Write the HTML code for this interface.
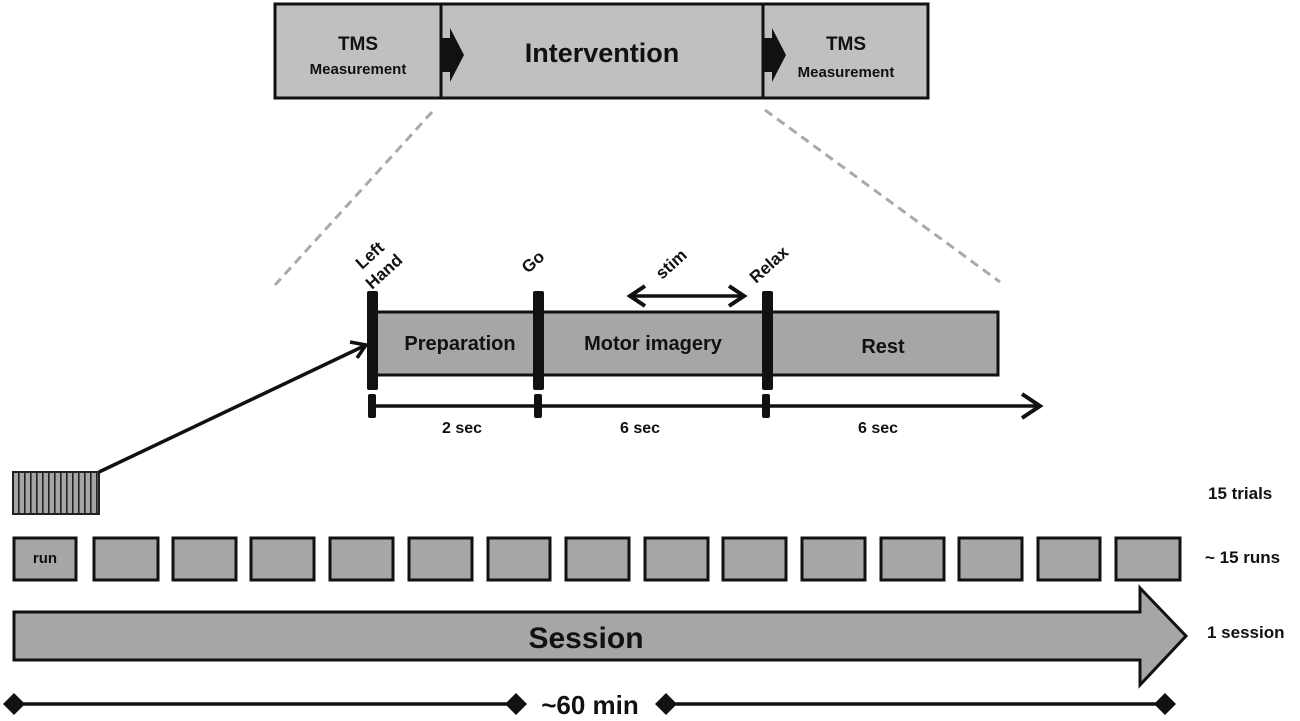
<!DOCTYPE html>
<html><head><style>body{margin:0;background:#fff}svg{display:block}text{font-family:"Liberation Sans",sans-serif;font-weight:bold;fill:#111}</style></head><body>
<svg width="1300" height="721" viewBox="0 0 1300 721">
<defs><pattern id="h" width="6" height="10" patternUnits="userSpaceOnUse"><rect width="6" height="10" fill="#a6a6a6"/><rect width="1.6" height="10" fill="#222"/></pattern></defs>
<rect x="275" y="4" width="653" height="94" fill="#c0c0c0" stroke="#111" stroke-width="3"/>
<line x1="441" y1="4" x2="441" y2="98" stroke="#111" stroke-width="3"/>
<line x1="763" y1="4" x2="763" y2="98" stroke="#111" stroke-width="3"/>
<polygon points="441,38 450,38 450,28 464,55 450,82 450,72 441,72" fill="#111"/>
<polygon points="763,38 772,38 772,28 786,55 772,82 772,72 763,72" fill="#111"/>
<text x="358" y="50" font-size="19" text-anchor="middle">TMS</text>
<text x="358" y="74" font-size="15" text-anchor="middle">Measurement</text>
<text x="602" y="62" font-size="27" text-anchor="middle">Intervention</text>
<text x="846" y="50" font-size="19" text-anchor="middle">TMS</text>
<text x="846" y="77" font-size="15" text-anchor="middle">Measurement</text>
<line x1="432" y1="112" x2="275" y2="285" stroke="#aaa" stroke-width="3" stroke-dasharray="9,6"/>
<line x1="765" y1="110" x2="1000" y2="282" stroke="#aaa" stroke-width="3" stroke-dasharray="9,6"/>
<rect x="373" y="312" width="625" height="63" fill="#a6a6a6" stroke="#111" stroke-width="3"/>
<rect x="367" y="291" width="11" height="99" rx="2" fill="#111"/>
<rect x="533" y="291" width="11" height="99" rx="2" fill="#111"/>
<rect x="762" y="291" width="11" height="99" rx="2" fill="#111"/>
<rect x="368" y="394" width="8" height="24" rx="2" fill="#111"/>
<rect x="534" y="394" width="8" height="24" rx="2" fill="#111"/>
<rect x="762" y="394" width="8" height="24" rx="2" fill="#111"/>
<line x1="372" y1="406" x2="1038" y2="406" stroke="#111" stroke-width="3.5"/>
<polyline points="1022,394 1040,406 1022,418" fill="none" stroke="#111" stroke-width="4"/>
<text x="460" y="350" font-size="20" text-anchor="middle">Preparation</text>
<text x="653" y="350" font-size="20" text-anchor="middle">Motor imagery</text>
<text x="883" y="353" font-size="20" text-anchor="middle">Rest</text>
<text x="462" y="433" font-size="16" text-anchor="middle">2 sec</text>
<text x="640" y="433" font-size="16" text-anchor="middle">6 sec</text>
<text x="878" y="433" font-size="16" text-anchor="middle">6 sec</text>
<line x1="632" y1="296" x2="742" y2="296" stroke="#111" stroke-width="3.5"/>
<polyline points="645,286 630,296 645,306" fill="none" stroke="#111" stroke-width="4"/>
<polyline points="729,286 744,296 729,306" fill="none" stroke="#111" stroke-width="4"/>
<text transform="translate(362,270) rotate(-42)" font-size="17">Left</text>
<text transform="translate(372,290) rotate(-42)" font-size="17">Hand</text>
<text transform="translate(528,274) rotate(-42)" font-size="17">Go</text>
<text transform="translate(662,280) rotate(-42)" font-size="17">stim</text>
<text transform="translate(756,284) rotate(-42)" font-size="17">Relax</text>
<rect x="13" y="472" width="86" height="42" fill="url(#h)" stroke="#222" stroke-width="2"/>
<line x1="99" y1="472" x2="364" y2="346" stroke="#111" stroke-width="3.5"/>
<polyline points="350,342 366,345 357,358" fill="none" stroke="#111" stroke-width="3.5"/>
<g fill="#a6a6a6" stroke="#111" stroke-width="3">
<rect x="14" y="538" width="62" height="42"/><rect x="94" y="538" width="64" height="42"/><rect x="173" y="538" width="63" height="42"/><rect x="251" y="538" width="63" height="42"/><rect x="330" y="538" width="63" height="42"/><rect x="409" y="538" width="63" height="42"/><rect x="488" y="538" width="62" height="42"/><rect x="566" y="538" width="63" height="42"/><rect x="645" y="538" width="63" height="42"/><rect x="723" y="538" width="63" height="42"/><rect x="802" y="538" width="63" height="42"/><rect x="881" y="538" width="63" height="42"/><rect x="959" y="538" width="63" height="42"/><rect x="1038" y="538" width="62" height="42"/><rect x="1116" y="538" width="64" height="42"/>
<polygon points="14,612 1140,612 1140,588 1186,636 1140,685 1140,660 14,660"/>
</g>
<text x="45" y="563" font-size="15" text-anchor="middle">run</text>
<text x="586" y="648" font-size="30" text-anchor="middle">Session</text>
<line x1="14" y1="704" x2="516" y2="704" stroke="#111" stroke-width="3.5"/>
<line x1="666" y1="704" x2="1165" y2="704" stroke="#111" stroke-width="3.5"/>
<g fill="#111"><polygon points="14,693 25,704 14,715 3,704"/><polygon points="516,693 527,704 516,715 505,704"/><polygon points="666,693 677,704 666,715 655,704"/><polygon points="1165,693 1176,704 1165,715 1154,704"/></g>
<text x="590" y="714" font-size="26" text-anchor="middle">~60 min</text>
<text x="1208" y="499" font-size="17">15 trials</text>
<text x="1205" y="563" font-size="17">~ 15 runs</text>
<text x="1207" y="638" font-size="17">1 session</text>
</svg>
</body></html>
